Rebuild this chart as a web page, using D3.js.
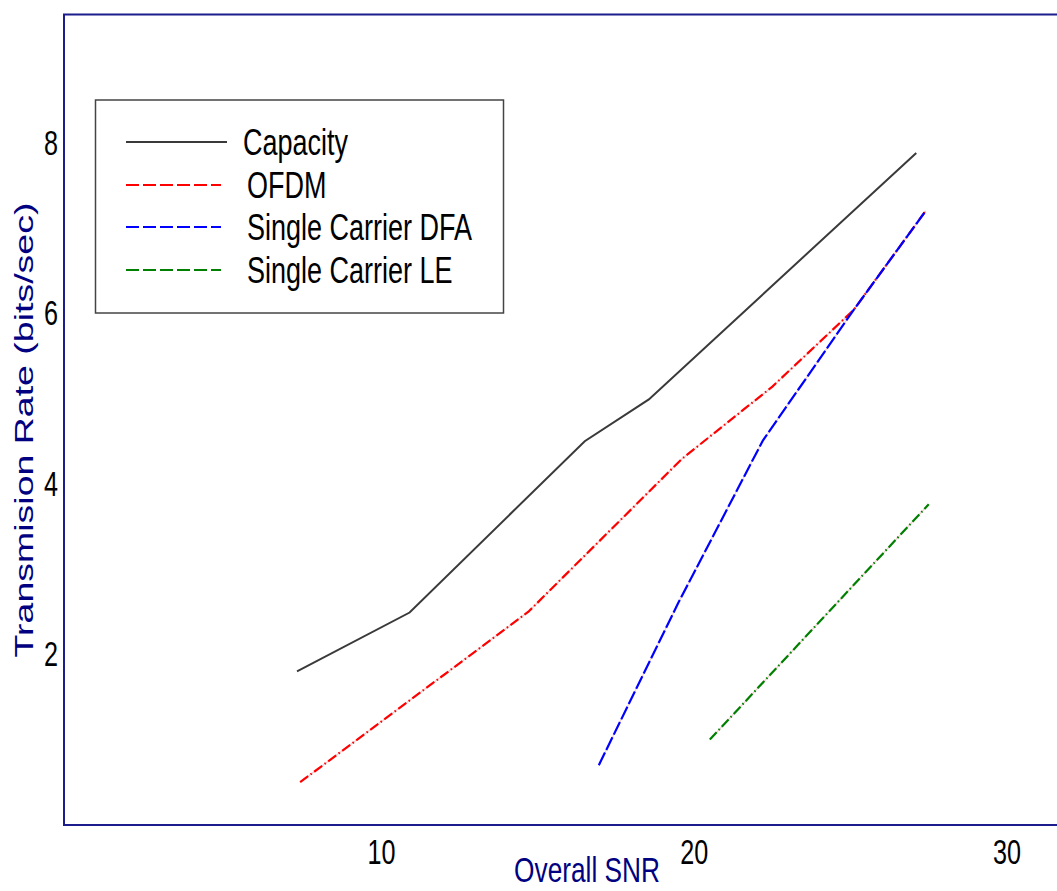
<!DOCTYPE html>
<html lang="en">
<head>
<meta charset="utf-8">
<title>Transmission rate vs SNR</title>
<script src="https://cdn.jsdelivr.net/npm/d3@7"></script>
<style>
  html, body { margin: 0; padding: 0; background: #fff; }
  svg { display: block; }
  text { font-family: "Liberation Sans", Arial, sans-serif; }
</style>
</head>
<body>
<div id="chart"></div>
<script>
// values
var capacitySnr  = [7.3, 10.9, 16.5, 18.55, 27.1];
var capacityRate = [1.79, 2.48, 4.49, 4.98, 7.87];

var ofdmSnr  = [7.4, 14.7, 19.6, 22.5, 25.1, 27.4];
var ofdmRate = [0.49, 2.49, 4.28, 5.13, 6.03, 7.19];

var dfaSnr  = [16.95, 19.5, 22.2, 25.1, 27.4];
var dfaRate = [0.69, 2.6, 4.5, 6.03, 7.19];

var leSnr  = [20.5, 27.5];
var leRate = [0.99, 3.75];

var xTicks = [10, 20, 30];
var yTicks = [2, 4, 6, 8];

var seriesNames = ["Capacity", "OFDM", "Single Carrier DFA", "Single Carrier LE"];

var width = 1057, height = 891;
var navy = "#1c1c8c";
var squeeze = 0.7; // the whole figure looks narrowed horizontally

var svg = d3.select("#chart").append("svg")
    .attr("width", width)
    .attr("height", height);

var x = d3.scaleLinear().domain([-0.15, 31.6]).range([64, 1057]);
var y = d3.scaleLinear().domain([0, 9.5]).range([824, 14]);

function zip(xs, ys) { return xs.map(function(v, i) { return [v, ys[i]]; }); }

var series = [
  { name: seriesNames[0], pts: zip(capacitySnr, capacityRate), color: "#3a3a3a", dash: null, legendDash: null, width: 2 },
  { name: seriesNames[1], pts: zip(ofdmSnr, ofdmRate), color: "#ff0000", dash: "10,3,1.5,3", legendDash: "13,4", width: 2.2 },
  { name: seriesNames[2], pts: zip(dfaSnr, dfaRate), color: "#0000ff", dash: "14,3", legendDash: "13,4", width: 2.2 },
  { name: seriesNames[3], pts: zip(leSnr, leRate), color: "#008000", dash: "10,3,1.5,3", legendDash: "13,4", width: 2.2 }
];

var line = d3.line()
    .x(function(d) { return x(d[0]); })
    .y(function(d) { return y(d[1]); });

// frame
svg.append("path")
    .attr("d", "M1060,14.5 H64 V825 H1060")
    .attr("fill", "none")
    .attr("stroke", navy)
    .attr("stroke-width", 2);

// tick labels
svg.append("g").selectAll("text")
    .data(xTicks)
  .enter().append("text")
    .attr("transform", function(d) { return "translate(" + x(d) + ",864) scale(" + squeeze + ",1)"; })
    .attr("text-anchor", "middle")
    .attr("font-size", 36)
    .attr("fill", "#000")
    .text(function(d) { return d; });

svg.append("g").selectAll("text")
    .data(yTicks)
  .enter().append("text")
    .attr("transform", function(d) { return "translate(58," + (y(d) + 13) + ") scale(" + squeeze + ",1)"; })
    .attr("text-anchor", "end")
    .attr("font-size", 36)
    .attr("fill", "#000")
    .text(function(d) { return d; });

// axis titles
svg.append("text")
    .attr("transform", "translate(587,882) scale(0.75,1)")
    .attr("text-anchor", "middle")
    .attr("font-size", 35)
    .attr("fill", "#000080")
    .text("Overall SNR");

svg.append("text")
    .attr("transform", "translate(33,430) scale(" + squeeze + ",1) rotate(-90)")
    .attr("text-anchor", "middle")
    .attr("font-size", 37.5)
    .attr("fill", "#000080")
    .text("Transmision Rate (bits/sec)");

// faint connector under the broken lines
svg.append("g").selectAll("path")
    .data(series.filter(function(s) { return s.dash; }))
  .enter().append("path")
    .attr("d", function(s) { return line(s.pts); })
    .attr("fill", "none")
    .attr("stroke", "#f2caca")
    .attr("stroke-width", 1.2);

svg.append("g").selectAll("path")
    .data(series)
  .enter().append("path")
    .attr("d", function(s) { return line(s.pts); })
    .attr("fill", "none")
    .attr("stroke", function(s) { return s.color; })
    .attr("stroke-width", function(s) { return s.width; })
    .attr("stroke-dasharray", function(s) { return s.dash; });

// legend
var legend = svg.append("g");
legend.append("rect")
    .attr("x", 95.5).attr("y", 100)
    .attr("width", 408).attr("height", 213)
    .attr("fill", "#fff")
    .attr("stroke", "#444")
    .attr("stroke-width", 1.5);

var rowY = [142, 185, 227, 270];
var item = legend.selectAll("g.item")
    .data(series)
  .enter().append("g")
    .attr("class", "item")
    .attr("transform", function(s, i) { return "translate(0," + rowY[i] + ")"; });

item.append("line")
    .attr("x1", 126)
    .attr("x2", function(s, i) { return i === 0 ? 227 : 221; })
    .attr("stroke", function(s) { return s.color; })
    .attr("stroke-width", function(s, i) { return i === 0 ? 1.8 : 2; })
    .attr("stroke-dasharray", function(s) { return s.legendDash; });

item.append("text")
    .attr("transform", function(s, i) { return "translate(" + (i === 0 ? 243 : 247) + ",13) scale(0.75,1)"; })
    .attr("font-size", 36)
    .attr("fill", "#000")
    .text(function(s) { return s.name; });
</script>
</body>
</html>
